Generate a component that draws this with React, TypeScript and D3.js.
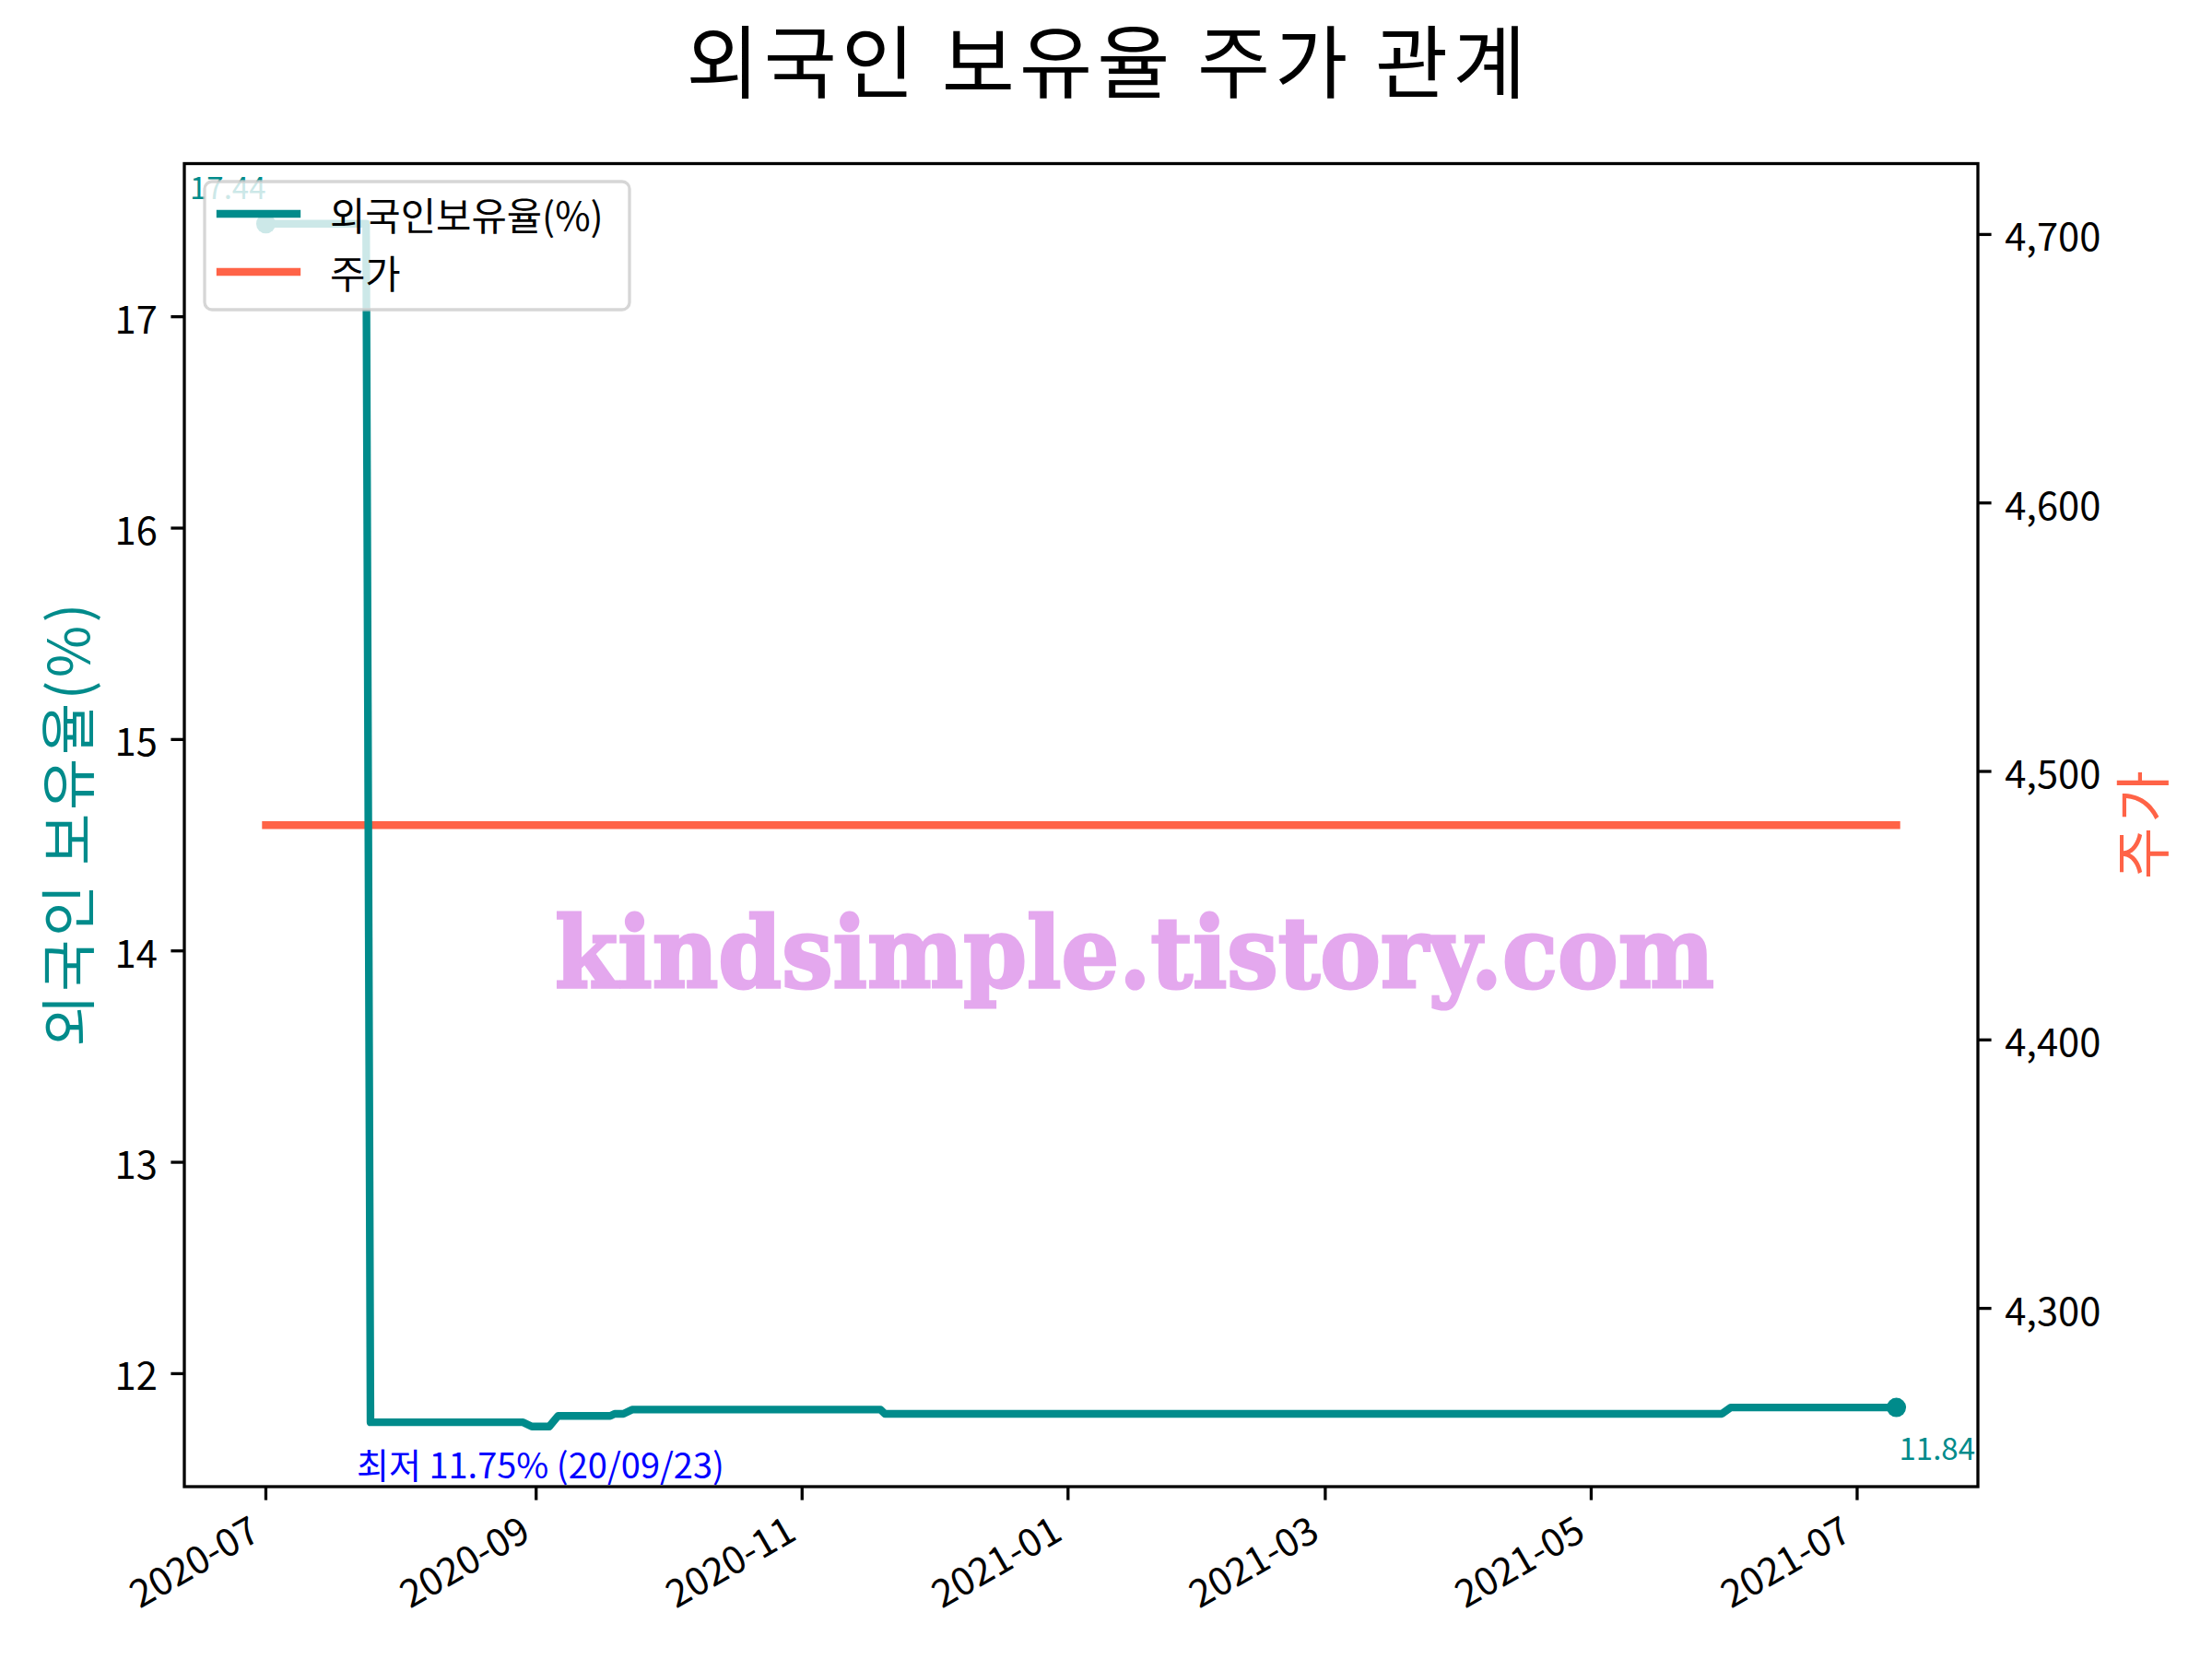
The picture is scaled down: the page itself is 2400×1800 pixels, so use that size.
import React from "react";
import * as d3 from "d3";

const W = 2400;
const H = 1800;

const title = "외국인 보유율 주가 관계";
const leftLabel = "외국인 보유율(%)";
const rightLabel = "주가";
const seriesNames = ["외국인보유율(%)", "주가"];
const minLabel = "최저 11.75% (20/09/23)";
const watermark = "kindsimple.tistory.com";

// foreign ownership ratio vertices (date, %)
const ratioDates = [
  "2020-07-01", "2020-07-24", "2020-07-25", "2020-08-29", "2020-08-31",
  "2020-09-04", "2020-09-06", "2020-09-18", "2020-09-19", "2020-09-21",
  "2020-09-23", "2020-11-19", "2020-11-20", "2021-05-31", "2021-06-02",
  "2021-07-10",
];
const ratioValues = [
  17.44, 17.44, 11.77, 11.77, 11.75,
  11.75, 11.80, 11.80, 11.81, 11.81,
  11.83, 11.83, 11.81, 11.81, 11.84,
  11.84,
];

// stock price
const priceDates = ["2020-07-01", "2021-07-10"];
const priceValues = [4480, 4480];

const xTickLabels = ["2020-07", "2020-09", "2020-11", "2021-01", "2021-03", "2021-05", "2021-07"];
const leftTicks = [12, 13, 14, 15, 16, 17];
const rightTicks = [4300, 4400, 4500, 4600, 4700];

const TEAL = "#008B8B";
const TOMATO = "#FF6347";
const FONT = "'Noto Sans CJK KR', 'Noto Sans', sans-serif";

const M = { left: 200, right: 2146, top: 177.5, bottom: 1613 };

export default function App() {
  const parse = d3.timeParse("%Y-%m-%d");
  const pmonth = d3.timeParse("%Y-%m");
  const rd = ratioDates.map((d) => parse(d) as Date);
  const pd = priceDates.map((d) => parse(d) as Date);

  const t0 = d3.min(rd)!.getTime();
  const t1 = d3.max(rd)!.getTime();
  const tm = (t1 - t0) * 0.05;
  const x = d3.scaleTime().domain([new Date(t0 - tm), new Date(t1 + tm)]).range([M.left, M.right]);

  const rmin = d3.min(ratioValues)!;
  const rmax = d3.max(ratioValues)!;
  const rm = (rmax - rmin) * 0.05;
  const yL = d3.scaleLinear().domain([rmin - rm, rmax + rm]).range([M.bottom, M.top]);

  const pv = priceValues[0];
  const pHalf = pv * 0.05 * 1.1;
  const yR = d3.scaleLinear().domain([pv - pHalf, pv + pHalf]).range([M.bottom, M.top]);

  const ratioLine = d3
    .line<number>()
    .x((_, i) => x(rd[i]))
    .y((v) => yL(v))(ratioValues) as string;
  const priceLine = d3
    .line<number>()
    .x((_, i) => x(pd[i]))
    .y((v) => yR(v))(priceValues) as string;

  const fmt = d3.format(",");
  const tickFs = 41.7;
  const tickLen = 14.6;
  const tickW = 3.3;

  const first = { x: x(rd[0]), y: yL(ratioValues[0]) };
  const lastI = ratioValues.length - 1;
  const last = { x: x(rd[lastI]), y: yL(ratioValues[lastI]) };
  const minIdx = ratioValues.indexOf(rmin);
  const minX = (x(rd[minIdx]) + x(rd[minIdx + 1])) / 2;

  const leg = { x: 222, y: 197, w: 461, h: 139 };

  return (
    <div style={{ position: "absolute", left: 0, top: 0 }}>
      <svg width={W} height={H} style={{ display: "block", background: "#fff" }} fontFamily={FONT}>
        <rect x={0} y={0} width={W} height={H} fill="#fff" />
        {/* title */}
        <text x={1200} y={100} textAnchor="middle" fontSize={86} fill="#000" textLength={911} lengthAdjust="spacing">
          {title}
        </text>

        {/* watermark */}
        <text
          x={1231}
          y={1071}
          textAnchor="middle"
          fontSize={106}
          fontWeight="bold"
          fontFamily="'DejaVu Serif', serif"
          fill="#E4A8EE"
          stroke="#E4A8EE"
          strokeWidth={3}
          textLength={1258}
          lengthAdjust="spacingAndGlyphs"
        >
          {watermark}
        </text>

        {/* lines */}
        <path d={priceLine} fill="none" stroke={TOMATO} strokeWidth={8.33} strokeLinecap="square" />
        <path d={ratioLine} fill="none" stroke={TEAL} strokeWidth={8.33} strokeLinejoin="round" strokeLinecap="square" />
        <circle cx={first.x} cy={first.y} r={10.5} fill={TEAL} />
        <circle cx={last.x} cy={last.y} r={10.5} fill={TEAL} />

        {/* annotations */}
        <text x={first.x} y={first.y - 27} textAnchor="end" fontSize={33} fill={TEAL}>
          {ratioValues[0].toFixed(2)}
        </text>
        <text x={last.x + 3} y={last.y + 57} textAnchor="start" fontSize={33} fill={TEAL}>
          {ratioValues[lastI].toFixed(2)}
        </text>
        <text x={minX} y={1604} textAnchor="middle" fontSize={38} fill="#0000FF">
          {minLabel}
        </text>

        {/* legend */}
        <rect
          x={leg.x}
          y={leg.y}
          width={leg.w}
          height={leg.h}
          rx={8}
          fill="#fff"
          fillOpacity={0.8}
          stroke="#cccccc"
          strokeOpacity={0.8}
          strokeWidth={3.3}
        />
        {seriesNames.map((n, i) => {
          const ly = 232 + i * 63;
          return (
            <g key={n}>
              <line x1={239} x2={322} y1={ly} y2={ly} stroke={i === 0 ? TEAL : TOMATO} strokeWidth={8.33} strokeLinecap="square" />
              <text x={358} y={ly} dominantBaseline="central" fontSize={tickFs} fill="#000">
                {n}
              </text>
            </g>
          );
        })}

        {/* frame */}
        <rect x={M.left} y={M.top} width={M.right - M.left} height={M.bottom - M.top} fill="none" stroke="#000" strokeWidth={3.3} />

        {/* x ticks */}
        {xTickLabels.map((lab) => {
          const tx = x(pmonth(lab) as Date);
          const ax = tx - 4;
          const ay = M.bottom + tickLen + 14.6 + 27;
          return (
            <g key={lab}>
              <line x1={tx} x2={tx} y1={M.bottom} y2={M.bottom + tickLen} stroke="#000" strokeWidth={tickW} />
              <text x={ax} y={ay} textAnchor="end" fontSize={tickFs} fill="#000" transform={`rotate(-30, ${ax}, ${ay})`}>
                {lab}
              </text>
            </g>
          );
        })}

        {/* left ticks */}
        {leftTicks.map((t) => {
          const ty = yL(t);
          return (
            <g key={t}>
              <line x1={M.left - tickLen} x2={M.left} y1={ty} y2={ty} stroke="#000" strokeWidth={tickW} />
              <text x={M.left - tickLen - 14.6} y={ty} textAnchor="end" dominantBaseline="central" fontSize={tickFs} fill="#000">
                {t}
              </text>
            </g>
          );
        })}

        {/* right ticks */}
        {rightTicks.map((t) => {
          const ty = yR(t);
          return (
            <g key={t}>
              <line x1={M.right} x2={M.right + tickLen} y1={ty} y2={ty} stroke="#000" strokeWidth={tickW} />
              <text x={M.right + tickLen + 14.6} y={ty} textAnchor="start" dominantBaseline="central" fontSize={tickFs} fill="#000">
                {fmt(t)}
              </text>
            </g>
          );
        })}

        {/* axis labels */}
        <text x={97} y={895} textAnchor="middle" fontSize={61} fill={TEAL} textLength={481} lengthAdjust="spacing" transform="rotate(-90, 97, 895)">
          {leftLabel}
        </text>
        <text x={2348} y={895} textAnchor="middle" fontSize={61} fill={TOMATO} textLength={118} lengthAdjust="spacing" transform="rotate(-90, 2348, 895)">
          {rightLabel}
        </text>
      </svg>
    </div>
  );
}
